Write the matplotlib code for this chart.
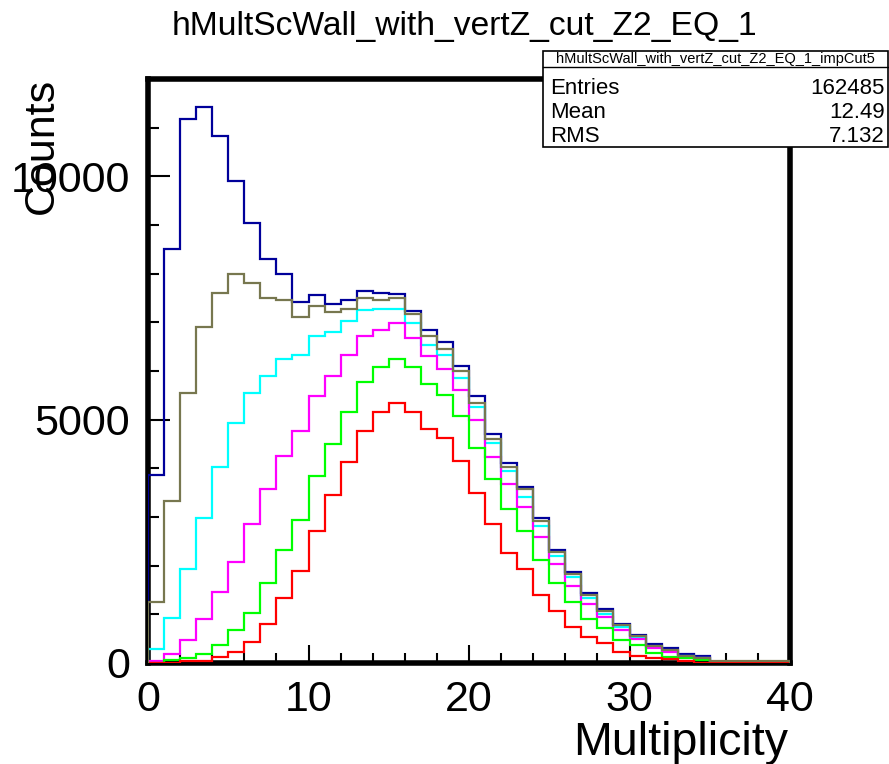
import numpy as np
import matplotlib
matplotlib.use('Agg')
import matplotlib.pyplot as plt
from matplotlib.patches import Rectangle
from matplotlib.lines import Line2D

plt.rcParams['font.family'] = ['Liberation Sans', 'DejaVu Sans']

# bin edges 0..40, one bin per multiplicity value
edges = np.arange(0, 41)

# counts per bin for each cut
blue = [3860, 8515, 11176, 11424, 10821, 9904, 9041, 8296, 8002, 7419,
        7563, 7386, 7468, 7638, 7604, 7590, 7234, 6851, 6598, 6105,
        5489, 4702, 4113, 3610, 2971, 2320, 1875, 1444, 1103, 801,
        575, 390, 302, 190, 140, 30, 25, 20, 20, 20]
olive = [1246, 3333, 5550, 6905, 7604, 7988, 7810, 7502, 7468, 7111,
         7331, 7207, 7283, 7502, 7468, 7502, 7180, 6729, 6454, 5996,
         5345, 4606, 4018, 3566, 2915, 2273, 1828, 1396, 1061, 780,
         554, 349, 267, 144, 109, 40, 40, 40, 40, 40]
cyan = [281, 918, 1924, 2984, 4018, 4934, 5550, 5893, 6256, 6331,
        6718, 6810, 7029, 7248, 7283, 7283, 6996, 6544, 6324, 5858,
        5250, 4524, 3949, 3415, 2813, 2203, 1760, 1328, 1006, 745,
        540, 335, 253, 144, 109, 20, 15, 10, 10, 10]
magenta = [50, 185, 472, 897, 1464, 2068, 2848, 3566, 4250, 4764,
           5476, 5896, 6338, 6721, 6851, 6996, 6680, 6310, 6037, 5606,
           4990, 4236, 3672, 3197, 2594, 2027, 1581, 1211, 938, 677,
           486, 302, 232, 129, 96, 15, 10, 8, 5, 5]
green = [10, 60, 110, 185, 380, 678, 1020, 1637, 2320, 2936,
         3846, 4504, 5160, 5764, 6072, 6256, 6072, 5723, 5503, 5072,
         4408, 3772, 3159, 2714, 2108, 1636, 1246, 897, 712, 472,
         370, 199, 129, 96, 68, 10, 5, 3, 1, 0]
red = [0, 5, 40, 50, 117, 232, 437, 801, 1328, 1889,
       2717, 3457, 4121, 4764, 5148, 5333, 5148, 4799, 4626, 4154,
       3484, 2848, 2270, 1924, 1406, 1060, 745, 528, 404, 232,
       144, 109, 82, 40, 10, 3, 2, 1, 0, 0]

stats_name = 'hMultScWall_with_vertZ_cut_Z2_EQ_1_impCut5'
stats_rows = [('Entries', '162485'), ('Mean', '12.49'), ('RMS', '7.132')]

fig = plt.figure(figsize=(8.89, 7.64), dpi=100)
ax = fig.add_axes([0.1665, 0.1322, 0.7222, 0.7644])

# draw order like ROOT "same": olive ends up on top
for vals, col in [(blue, '#00009a'), (cyan, '#00ffff'), (magenta, '#ff00ff'),
                  (green, '#00ff00'), (red, '#ff0000'), (olive, '#77774f')]:
    ax.stairs(vals, edges, color=col, lw=1.6, zorder=3)

ax.set_xlim(0, 40)
ax.set_ylim(0, 12000)
ax.set_xticks([0, 10, 20, 30, 40])
ax.set_xticks(np.arange(0, 41, 2), minor=True)
ax.set_yticks([0, 5000, 10000])
ax.set_yticks(np.arange(0, 12001, 1000), minor=True)
ax.tick_params(axis='both', which='both', direction='in', width=1.5,
               top=False, right=False, labelsize=31)
ax.tick_params(axis='x', which='major', length=13, pad=12)
ax.tick_params(axis='x', which='minor', length=7)
ax.tick_params(axis='y', which='major', length=16, pad=13)
ax.tick_params(axis='y', which='minor', length=8)
for sp in ax.spines.values():
    sp.set_linewidth(4)

# axis titles sit at the far ends, ROOT style
fig.text(788 / 889, 1 - 755 / 764, 'Multiplicity', fontsize=33.5,
         ha='right', va='baseline')
fig.text(42 / 889, 1 - 78 / 764, 'Counts', fontsize=31, rotation=90,
         ha='center', va='top')
fig.text(464 / 889, 1 - 35 / 764, 'hMultScWall_with_vertZ_cut_Z2_EQ_1',
         fontsize=24.2, ha='center', va='baseline')

# stats box in the top right corner
box_l, box_r = 543 / 889, 888 / 889
box_b, box_t = 1 - 147 / 764, 1 - 51 / 764
fig.patches.append(Rectangle((box_l, box_b), box_r - box_l, box_t - box_b,
                             transform=fig.transFigure, facecolor='white',
                             edgecolor='black', lw=1.2, zorder=5))
sep = 1 - 67 / 764
fig.lines.append(Line2D([box_l, box_r], [sep, sep], transform=fig.transFigure,
                        color='black', lw=1.0, zorder=6))
fig.text((box_l + box_r) / 2, 1 - 59 / 764, stats_name, fontsize=10.5,
         ha='center', va='center', zorder=7)
for i, (name, val) in enumerate(stats_rows):
    y = 1 - (88 + 24.5 * i) / 764
    fig.text(550 / 889, y, name, fontsize=16, ha='left', va='center', zorder=7)
    fig.text(885 / 889, y, val, fontsize=16, ha='right', va='center', zorder=7)

fig.savefig('out.png', dpi=100)
